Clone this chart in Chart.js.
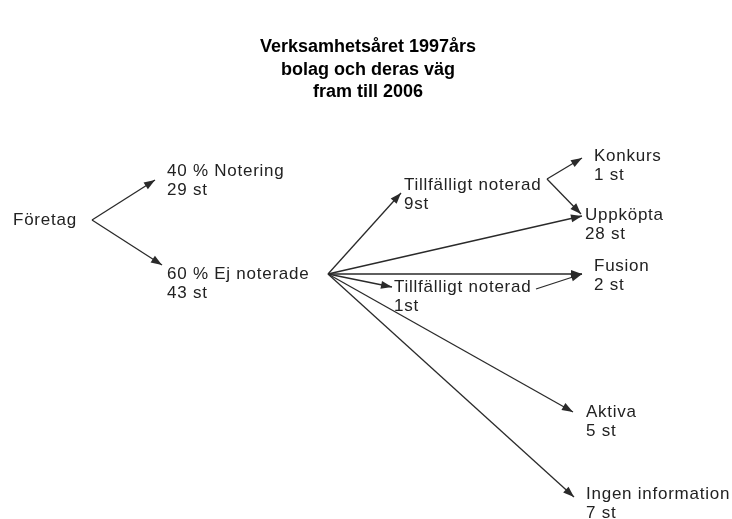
<!DOCTYPE html>
<html>
<head>
<meta charset="utf-8">
<script src="https://cdn.jsdelivr.net/npm/chart.js@4/dist/chart.umd.min.js"></script>
<style>
  html, body { margin: 0; padding: 0; background: #fff; }
  #wrap { width: 732px; height: 519px; }
</style>
</head>
<body>
<div id="wrap"><canvas id="flow"></canvas></div>
<script>
// titel
const titleLines = ['Verksamhetsåret 1997års', 'bolag och deras väg', 'fram till 2006'];
const titleY = [47, 70, 92];

// noder (etikett, antal, läge i diagrammets koordinater)
const nodeNames = ['Företag', '40 % Notering', '60 % Ej noterade', 'Tillfälligt noterad', 'Tillfälligt noterad',
                   'Konkurs', 'Uppköpta', 'Fusion', 'Aktiva', 'Ingen information'];
const nodeCounts = ['', '29 st', '43 st', '9st', '1st', '1 st', '28 st', '2 st', '5 st', '7 st'];
const nodeX = [13, 167, 167, 404, 394, 594, 585, 594, 586, 586];
const nodeY = [220, 171, 274, 185, 287, 156, 215, 266, 412, 494];

// pilar: start- och slutpunkt
const edgeX0 = [92, 92, 328, 328, 328, 328, 328, 328, 547, 547, 536];
const edgeY0 = [220, 220, 274, 274, 274, 274, 274, 274, 179, 179, 289];
const edgeX1 = [155, 162, 401, 582, 582, 392, 573, 574, 582, 581, 582];
const edgeY1 = [180, 265, 193, 216, 274, 287, 412, 497, 158, 214, 274];

const lineColor = '#2a2a2a';

const datasets = edgeX0.map((x0, i) => ({
    data: [{ x: x0, y: edgeY0[i] }, { x: edgeX1[i], y: edgeY1[i] }],
    showLine: true,
    borderColor: lineColor,
    borderWidth: 1.3,
    pointRadius: 0,
    fill: false
}));

const arrowPlugin = {
    id: 'arrows',
    afterDatasetsDraw(chart) {
        const ctx = chart.ctx;
        ctx.save();
        ctx.fillStyle = lineColor;
        chart.data.datasets.forEach((ds, i) => {
            const pts = chart.getDatasetMeta(i).data;
            const a = pts[0], b = pts[1];
            const ang = Math.atan2(b.y - a.y, b.x - a.x);
            const len = 11, half = 4;
            ctx.beginPath();
            ctx.moveTo(b.x, b.y);
            ctx.lineTo(b.x - len * Math.cos(ang) + half * Math.sin(ang), b.y - len * Math.sin(ang) - half * Math.cos(ang));
            ctx.lineTo(b.x - len * Math.cos(ang) - half * Math.sin(ang), b.y - len * Math.sin(ang) + half * Math.cos(ang));
            ctx.closePath();
            ctx.fill();
        });
        ctx.restore();
    }
};

const labelPlugin = {
    id: 'labels',
    afterDraw(chart) {
        const ctx = chart.ctx;
        const xs = chart.scales.x, ys = chart.scales.y;
        ctx.save();
        ctx.textBaseline = 'middle';
        ctx.fillStyle = '#000';
        ctx.textAlign = 'center';
        ctx.font = 'bold 18px "Liberation Sans", Arial, sans-serif';
        titleLines.forEach((t, i) => ctx.fillText(t, xs.getPixelForValue(368), ys.getPixelForValue(titleY[i])));
        ctx.textAlign = 'left';
        ctx.fillStyle = '#222';
        ctx.font = '17px "Liberation Sans", Arial, sans-serif';
        ctx.letterSpacing = '0.75px';
        nodeNames.forEach((n, i) => {
            const px = xs.getPixelForValue(nodeX[i]);
            const py = ys.getPixelForValue(nodeY[i]);
            ctx.fillText(n, px, py);
            if (nodeCounts[i]) ctx.fillText(nodeCounts[i], px, py + 19);
        });
        ctx.restore();
    }
};

new Chart(document.getElementById('flow'), {
    type: 'scatter',
    data: { datasets },
    options: {
        responsive: true,
        maintainAspectRatio: false,
        animation: false,
        layout: { padding: 0 },
        plugins: { legend: { display: false }, tooltip: { enabled: false } },
        scales: {
            x: { type: 'linear', min: 0, max: 732, display: false },
            y: { type: 'linear', min: 0, max: 519, reverse: true, display: false }
        }
    },
    plugins: [arrowPlugin, labelPlugin]
});
</script>
</body>
</html>
